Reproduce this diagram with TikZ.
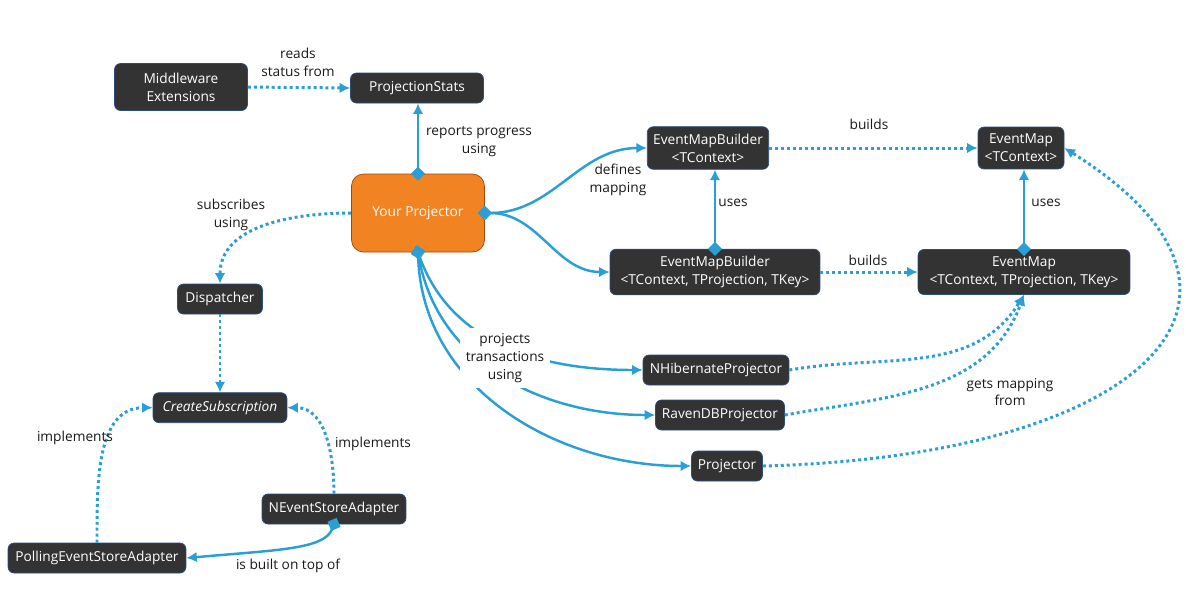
\documentclass[tikz,border=0pt]{standalone}
\usepackage{fontspec}
\setmainfont{Open Sans}
\usetikzlibrary{positioning,arrows.meta}
\definecolor{BoxFill}{HTML}{333333}
\definecolor{BoxLine}{HTML}{2B4C7E}
\definecolor{LinkBlue}{HTML}{2A9FD6}
\definecolor{ProjFill}{HTML}{F28322}
\definecolor{ProjLine}{HTML}{9A4A12}
\tikzset{
	box/.style={rectangle, rounded corners=1.2mm, draw=BoxLine, fill=BoxFill, text=white, align=center, minimum height=6mm, inner ysep=4pt, font=\fontsize{7.8}{10.2}\selectfont},
	solidlink/.style={LinkBlue, line width=1.4pt, -{Latex[length=6pt,width=6pt]}},
	dotlink/.style={solidlink, line width=1.7pt, dash pattern=on 1.7pt off 1.7pt},
	haslink/.style={solidlink, {Diamond[length=8pt,width=8pt]}-{Latex[length=6pt,width=6pt]}, shorten <=-4pt},
}
\begin{document}
\begin{tikzpicture}[x=0.02cm, y=-0.02cm,
		caption/.style={align=center, text=black!90, font=\fontsize{7.8}{10.2}\selectfont}]
	\useasboundingbox (0,0) rectangle (1186,603);
	% boxes
	\node (mw) [box, minimum width=2.66cm, minimum height=9.4mm] at (181,87) {Middleware\\Extensions};
	\node (ps) [box, minimum width=2.66cm] at (417,88) {ProjectionStats};
	\node (yp) [box, fill=ProjFill, draw=ProjLine, rounded corners=2.4mm, minimum width=2.66cm, minimum height=1.56cm] at (418,213) {Your Projector};
	\node (emb1) [box, minimum width=2.32cm] at (708,148) {EventMapBuilder\\<TContext>};
	\node (emc) [box, minimum width=1.72cm] at (1021,148) {EventMap\\<TContext>};
	\node (emb2) [box, minimum width=4.2cm] at (715,272) {EventMapBuilder\\<TContext, TProjection, TKey>};
	\node (eml) [box, minimum width=4.24cm] at (1024,272) {EventMap\\<TContext, TProjection, TKey>};
	\node (disp) [box, minimum width=1.7cm] at (220,299) {Dispatcher};
	\node (cs) [box, minimum width=2.68cm, below=1.56cm of disp] {\itshape CreateSubscription};
	\node (nea) [box, minimum width=2.88cm] at (334,509) {NEventStoreAdapter};
	\node (pea) [box, minimum width=3.56cm] at (97,558) {PollingEventStoreAdapter};
	\node (nhib) [box, minimum width=2.92cm] at (716,370) {NHibernateProjector};
	\node (raven) [box, minimum width=2.58cm] at (720,415) {RavenDBProjector};
	\node (proj) [box, minimum width=1.42cm] at (727,466) {Projector};
	% connectors
	\draw [dotlink] (mw.east) -- (ps.west);
	\draw [haslink] (yp.north) -- (yp.north |- ps.south);
	\draw [haslink] (yp.east) to[out=0,in=180] (emb1.west);
	\draw [haslink] (yp.east) to[out=0,in=180] (emb2.west);
	\draw [haslink] (emb2.north) -- (emb2.north |- emb1.south);
	\draw [haslink] (eml.north) -- (eml.north |- emc.south);
	\draw [dotlink] (emb1.east) -- (emc.west);
	\draw [dotlink] (emb2.east) -- (eml.west);
	\foreach \p/\a in {nhib/-70, raven/-80, proj/-88}
		\draw [haslink] (yp.south) to[out=\a,in=180] (\p.west);
	\foreach \p/\o/\i in {nhib/10/-122, raven/10/-110}
		\draw [dotlink] (\p.east) to[out=\o,in=\i] (eml.south);
	\draw [dotlink] (proj.east) .. controls +(380,-10) and +(240,150) .. (emc.east);
	\draw [dotlink] (yp.west) to[out=180,in=90] (disp.north);
	\draw [dotlink] (disp) -- (cs);
	\draw [dotlink] (pea.north) to[out=90,in=180] (cs.west);
	\draw [dotlink] (nea.north) to[out=90,in=0] (cs.east);
	\draw [haslink] (nea.south) .. controls +(-10,25) and +(90,-8) .. (pea.east);
	% labels
	\node (lreads) [caption] at (298,62) {reads\\status from};
	\node (lreports) [caption] at (479,142) {reports progress\\using};
	\node (ldefines) [caption] at (618,180) {defines\\mapping};
	\node (luses1) [caption] at (733,203) {uses};
	\node (luses2) [caption] at (1046,203) {uses};
	\node (lbuilds1) [caption] at (869,124) {builds};
	\node (lbuilds2) [caption] at (868,260) {builds};
	\node (lprojects) [caption, fill=white] at (505,358) {projects\\transactions\\using};
	\node (lgets) [caption] at (1010,392) {gets mapping\\from};
	\node (lsubscribes) [caption] at (231,215) {subscribes\\using};
	\node (limpl1) [caption] at (75,438) {implements};
	\node (limpl2) [caption] at (373,444) {implements};
	\node (lbuilt) [caption] at (288,566) {is built on top of};
\end{tikzpicture}
\end{document}
